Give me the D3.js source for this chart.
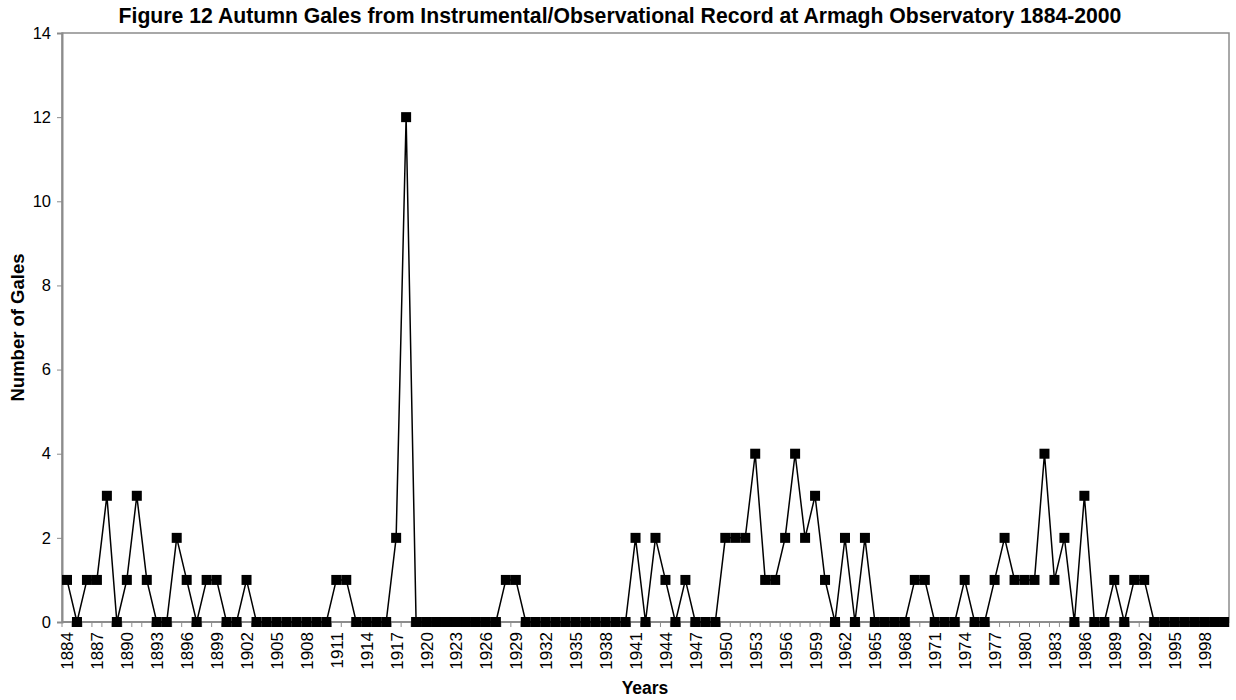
<!DOCTYPE html>
<html>
<head>
<meta charset="utf-8">
<script src="https://cdn.jsdelivr.net/npm/d3@7"></script>
<style>
  html, body { margin: 0; padding: 0; background: #fff; }
  svg { display: block; font-family: "Liberation Sans", Arial, sans-serif; }
</style>
</head>
<body>
<svg id="chart" width="1236" height="700"></svg>
<script>
const years = d3.range(1884, 2001);
const gales = [
  1,0,1,1,3,0,1,3,1,0,   // 1884-1893
  0,2,1,0,1,1,0,0,1,0,   // 1894-1903
  0,0,0,0,0,0,0,1,1,0,   // 1904-1913
  0,0,0,2,12,0,0,0,0,0,  // 1914-1923
  0,0,0,0,1,1,0,0,0,0,   // 1924-1933
  0,0,0,0,0,0,0,2,0,2,   // 1934-1943
  1,0,1,0,0,0,2,2,2,4,   // 1944-1953
  1,1,2,4,2,3,1,0,2,0,   // 1954-1963
  2,0,0,0,0,1,1,0,0,0,   // 1964-1973
  1,0,0,1,2,1,1,1,4,1,   // 1974-1983
  2,0,3,0,0,1,0,1,1,0,   // 1984-1993
  0,0,0,0,0,0,0          // 1994-2000
];
const yTicks = [0, 2, 4, 6, 8, 10, 12, 14];
const xLabelYears = years.filter((y, i) => i % 3 === 0);

const title = "Figure 12 Autumn Gales from Instrumental/Observational Record at Armagh Observatory 1884-2000";
const xTitle = "Years";
const yTitle = "Number of Gales";

const data = years.map((y, i) => ({ year: y, value: gales[i] }));

const svg = d3.select("#chart");
const pLeft = 62, pRight = 1229, pTop = 33, pBottom = 622;

const x = d3.scaleBand().domain(years).range([pLeft, pRight]).paddingInner(0).paddingOuter(0);
const xc = d => x(d) + x.bandwidth() / 2;
const y = d3.scaleLinear().domain([0, 14]).range([pBottom, pTop]);

const axisColor = "#8c8c8c";

// plot frame
svg.append("rect")
  .attr("x", pLeft).attr("y", pTop)
  .attr("width", pRight - pLeft).attr("height", pBottom - pTop)
  .attr("fill", "none").attr("stroke", axisColor).attr("stroke-width", 1.5);

// y axis
const yAxis = d3.axisLeft(y).tickValues(yTicks).tickSize(5).tickPadding(6).tickFormat(d3.format("d"));
const gy = svg.append("g").attr("transform", `translate(${pLeft},0)`).call(yAxis);
gy.select(".domain").attr("stroke", axisColor).attr("stroke-width", 2);
gy.selectAll(".tick line").attr("stroke", axisColor).attr("stroke-width", 1);
gy.selectAll(".tick text").attr("font-size", 16.5).attr("fill", "#000")
  .attr("font-family", "Liberation Sans, Arial, sans-serif");

// x axis: ticks at category boundaries
const boundaries = years.map(yr => x(yr)).concat([pRight]);
const gx = svg.append("g");
gx.append("line").attr("x1", pLeft).attr("x2", pRight).attr("y1", pBottom).attr("y2", pBottom)
  .attr("stroke", axisColor).attr("stroke-width", 2);
gx.selectAll("line.tk").data(boundaries).join("line").attr("class", "tk")
  .attr("x1", d => d).attr("x2", d => d).attr("y1", pBottom).attr("y2", pBottom + 5)
  .attr("stroke", axisColor).attr("stroke-width", 1);
gx.selectAll("text.lbl").data(xLabelYears).join("text").attr("class", "lbl")
  .attr("transform", d => `translate(${xc(d) + 6.5},${pBottom + 10}) rotate(-90)`)
  .attr("text-anchor", "end")
  .attr("font-size", 17)
  .attr("fill", "#000")
  .text(d => d);

// line
const line = d3.line().x(d => xc(d.year)).y(d => y(d.value));
svg.append("path").datum(data).attr("d", line)
  .attr("fill", "none").attr("stroke", "#000").attr("stroke-width", 1.5);

// markers
const ms = 10;
svg.selectAll("rect.mk").data(data).join("rect").attr("class", "mk")
  .attr("x", d => xc(d.year) - ms / 2).attr("y", d => y(d.value) - ms / 2)
  .attr("width", ms).attr("height", ms).attr("fill", "#000");

// titles
svg.append("text").attr("x", 620).attr("y", 23).attr("text-anchor", "middle")
  .attr("font-size", 21.2).attr("font-weight", "bold").text(title);
svg.append("text").attr("x", 645).attr("y", 694).attr("text-anchor", "middle")
  .attr("font-size", 17.5).attr("font-weight", "bold").text(xTitle);
svg.append("text").attr("transform", `translate(24,${(pTop + pBottom) / 2}) rotate(-90)`)
  .attr("text-anchor", "middle").attr("font-size", 18.5).attr("font-weight", "bold").text(yTitle);
</script>
</body>
</html>
